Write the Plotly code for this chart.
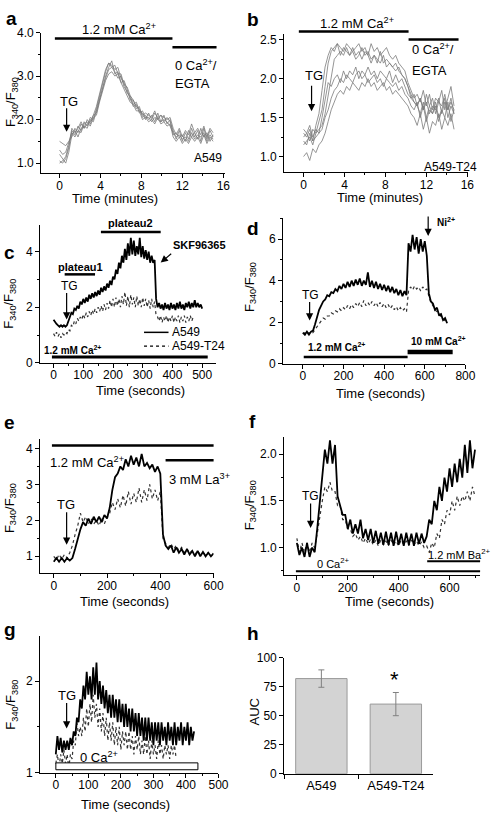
import plotly.graph_objects as go

W, H = 495, 820
FONT = "Liberation Sans, Arial, Helvetica, sans-serif"

# ------------------------------------------------------------------ data
# (a) A549 single-cell F340/F380 traces, sampled every 0.3 min
a_step_min = 0.3
a_cell1 = [1.05,1.0,1.1,1.35,1.75,1.65,1.85,1.75,1.95,1.85,2.05,2.0,2.25,2.55,2.85,3.1,3.3,3.25,3.15,3.2,
           2.95,2.85,2.6,2.55,2.35,2.4,2.2,2.15,2.0,2.15,2.0,2.15,2.05,2.1,1.95,2.05,1.95,1.75,1.55,1.75,
           1.5,1.7,1.55,1.8,1.6,1.75,1.5,1.8,1.55,1.75,1.6]
a_cell2 = [1.5,1.45,1.4,1.5,1.6,1.8,1.7,1.9,1.8,2.0,1.9,2.1,2.15,2.45,2.75,3.0,3.2,3.35,3.05,3.1,
           2.85,2.9,2.7,2.45,2.45,2.25,2.3,2.05,2.1,2.0,2.1,1.95,2.15,1.95,2.1,1.9,2.0,1.65,1.7,1.6,
           1.65,1.5,1.75,1.6,1.7,1.55,1.8,1.6,1.7,1.5,1.65]
a_cell3 = [1.2,1.1,1.0,1.25,1.65,1.75,1.6,1.8,1.85,1.8,2.0,1.95,2.2,2.5,2.7,2.95,3.15,3.2,3.1,2.95,
           3.0,2.75,2.65,2.5,2.3,2.35,2.15,2.2,2.05,2.05,1.95,2.05,2.0,1.95,2.0,1.95,1.85,1.7,1.6,1.65,
           1.55,1.6,1.5,1.7,1.55,1.65,1.6,1.7,1.5,1.65,1.55]
a_cell4 = [1.0,1.05,1.15,1.4,1.8,1.7,1.8,1.95,1.8,1.9,1.95,2.1,2.3,2.6,2.9,3.15,3.3,3.2,3.25,3.05,
           3.05,2.8,2.75,2.55,2.45,2.3,2.25,2.1,2.15,2.1,2.05,2.2,2.0,2.1,2.05,2.0,2.05,1.8,1.65,1.8,
           1.6,1.75,1.65,1.9,1.7,1.8,1.65,1.85,1.6,1.8,1.7]
a_cell5 = [1.3,1.2,1.25,1.45,1.7,1.6,1.75,1.7,1.9,1.95,1.85,2.05,2.1,2.4,2.65,2.9,3.05,3.1,3.0,3.05,
           2.85,2.7,2.55,2.4,2.35,2.2,2.2,2.0,2.05,1.95,2.0,1.9,2.05,1.9,1.95,1.85,1.9,1.6,1.5,1.6,
           1.45,1.55,1.45,1.6,1.5,1.6,1.45,1.65,1.45,1.6,1.5]

# (b) A549-T24 single-cell traces, sampled every 0.3 min
b_step_min = 0.3
b_cell1 = [1.25,1.3,1.2,1.35,1.3,1.45,1.6,1.9,2.2,2.35,2.4,2.45,2.4,2.35,2.45,2.4,2.35,2.4,2.45,2.35,
           2.4,2.3,2.45,2.35,2.4,2.3,2.35,2.4,2.3,2.25,2.3,2.2,2.15,2.1,1.95,1.85,1.75,1.8,1.7,1.85,
           1.65,1.8,1.6,1.75,1.7,1.85,1.6,1.75,1.9,1.65]
b_cell2 = [1.15,1.2,1.25,1.15,1.3,1.35,1.4,1.55,1.8,2.05,2.25,2.3,2.35,2.3,2.4,2.3,2.35,2.25,2.3,2.4,
           2.3,2.35,2.25,2.3,2.2,2.35,2.2,2.25,2.2,2.15,2.2,2.1,2.05,2.0,1.9,1.8,1.7,1.65,1.75,1.6,
           1.7,1.55,1.65,1.6,1.75,1.55,1.7,1.6,1.75,1.55]
b_cell3 = [1.35,1.3,1.4,1.25,1.35,1.3,1.5,1.75,1.95,1.9,2.0,2.05,1.95,2.1,2.0,2.1,2.05,2.15,2.0,2.1,
           2.05,2.15,2.05,2.1,2.0,2.1,2.05,2.0,2.1,1.95,2.05,1.95,2.0,1.9,1.8,1.75,1.7,1.65,1.55,1.7,
           1.5,1.65,1.55,1.7,1.5,1.6,1.75,1.5,1.65,1.55]
b_cell4 = [1.0,1.05,0.95,1.1,1.05,1.15,1.2,1.3,1.45,1.6,1.7,1.8,1.85,1.8,1.9,1.85,1.95,1.9,1.85,1.95,
           1.9,2.0,1.9,1.95,1.85,1.9,1.95,1.85,1.9,1.8,1.85,1.8,1.75,1.7,1.65,1.55,1.5,1.4,1.55,1.35,
           1.5,1.3,1.45,1.4,1.55,1.35,1.5,1.4,1.55,1.35]
b_cell5 = [1.2,1.15,1.3,1.2,1.25,1.3,1.35,1.5,1.6,1.75,1.85,1.9,2.0,1.95,2.05,2.0,1.95,2.05,2.1,2.0,
           2.05,1.95,2.0,2.05,1.95,2.0,1.9,2.0,1.95,1.9,1.95,1.85,1.9,1.8,1.75,1.65,1.6,1.7,1.5,1.65,
           1.45,1.6,1.55,1.65,1.45,1.6,1.5,1.7,1.45,1.6]
b_cell6 = [1.3,1.25,1.35,1.2,1.4,1.55,1.85,2.15,2.3,2.4,2.35,2.45,2.3,2.4,2.35,2.3,2.4,2.3,2.35,2.25,
           2.35,2.3,2.2,2.3,2.25,2.2,2.3,2.15,2.2,2.15,2.1,2.15,2.05,2.0,1.9,1.75,1.8,1.65,1.75,1.6,
           1.8,1.65,1.75,1.55,1.7,1.65,1.8,1.6,1.7,1.6]

# (c) 1.2 mM Ca2+, TG then SKF96365, sampled every 5 s
c_step_s = 5
c_a549 = [1.55,1.45,1.4,1.35,1.3,1.35,1.3,1.35,1.3,1.35,
          1.5,1.65,1.8,1.75,1.95,1.9,2.05,1.95,2.2,2.1,
          2.3,2.15,2.35,2.2,2.45,2.3,2.5,2.35,2.55,2.4,
          2.6,2.45,2.7,2.55,2.75,2.6,2.85,2.7,2.95,2.8,
          3.1,3.0,3.35,3.2,3.6,3.4,3.85,3.6,4.1,3.7,
          4.3,3.85,4.5,3.9,4.4,3.85,4.2,3.9,4.5,3.8,
          4.2,3.75,4.05,3.7,4.0,3.6,3.85,3.6,3.7,2.3,
          2.0,2.15,1.95,2.1,1.9,2.15,1.95,2.1,1.9,2.15,
          1.95,2.1,1.9,2.15,1.95,2.2,1.95,2.1,1.9,2.15,
          2.0,2.2,1.95,2.15,2.0,2.25,2.0,2.15,2.0,2.1,
          1.95]
c_t24 = [1.05,0.95,1.1,0.95,1.05,0.9,1.05,1.0,1.1,1.05,
         1.2,1.15,1.35,1.3,1.5,1.4,1.6,1.5,1.65,1.55,
         1.75,1.6,1.8,1.65,1.85,1.7,1.9,1.75,1.95,1.8,
         2.0,1.85,2.05,1.85,2.1,1.9,2.15,1.95,2.25,2.0,
         2.3,2.0,2.35,2.05,2.3,2.0,2.4,2.1,2.55,2.05,
         2.4,2.0,2.45,2.1,2.35,2.0,2.4,2.05,2.3,2.0,
         2.35,2.05,2.3,2.0,2.25,1.95,2.3,2.0,2.2,1.7,
         1.65,1.5,1.7,1.45,1.65,1.5,1.7,1.45,1.65,1.5,
         1.7,1.45,1.65,1.5,1.7,1.45,1.65,1.5,1.7,1.45,
         1.65,1.5,1.7,1.5,1.65]

# (d) 1.2 mM then 10 mM Ca2+, Ni2+, sampled every 10 s
d_step_s = 10
d_a549 = [1.5,1.4,1.55,1.4,1.55,1.6,
          1.9,2.3,2.6,2.8,3.0,3.1,3.3,3.25,3.45,3.4,
          3.6,3.5,3.75,3.6,3.85,3.65,3.95,3.7,4.0,3.75,
          4.05,3.8,4.1,3.75,4.0,3.8,4.4,3.7,4.0,3.65,
          3.95,3.6,3.85,3.55,3.8,3.5,3.75,3.45,3.7,3.4,
          3.6,3.3,3.55,3.25,3.5,3.3,
          5.8,5.4,6.2,5.5,6.1,5.3,6.0,5.4,5.9,5.2,
          3.4,3.0,2.9,2.6,2.7,2.35,2.4,2.1,2.2,1.95]
d_t24 = [1.45,1.5,1.4,1.5,1.45,1.5,
         1.65,1.8,1.95,2.05,2.2,2.15,2.3,2.3,2.45,2.4,
         2.55,2.5,2.65,2.55,2.7,2.6,2.8,2.65,2.85,2.7,
         2.9,2.75,2.95,2.75,3.05,2.8,2.95,2.8,3.0,2.8,
         2.95,2.75,2.95,2.75,2.9,2.7,2.85,2.65,2.8,2.6,
         2.75,2.55,2.7,2.55,2.65,2.5,
         3.5,3.7,3.55,3.75,3.6,3.7,3.5,3.7,3.55,3.6,
         3.2,2.95,2.8,2.6,2.5,2.35,2.25,2.15,2.05]

# (e) 1.2 mM Ca2+, TG, then 3 mM La3+, sampled every 10 s
e_step_s = 10
e_a549 = [0.85,0.95,0.85,0.95,0.85,0.95,0.88,0.95,1.2,1.5,
          1.75,1.95,1.85,2.05,1.9,2.1,1.95,2.1,1.95,2.15,
          2.05,2.35,2.85,3.2,3.3,3.5,3.4,3.7,3.5,3.8,
          3.55,3.75,3.5,3.85,3.5,3.6,3.45,3.55,3.35,3.5,
          3.3,1.6,1.3,1.2,1.3,1.1,1.25,1.1,1.2,1.05,
          1.2,1.05,1.15,1.0,1.15,1.0,1.12,1.0,1.1,1.0,
          1.08]
e_t24 = [1.0,0.9,1.05,0.92,1.05,0.95,1.1,1.3,1.6,1.85,
         2.2,1.95,2.1,1.9,2.05,1.9,2.0,1.85,2.05,1.9,
         2.1,2.2,2.5,2.3,2.6,2.35,2.7,2.4,2.8,2.45,
         2.75,2.5,2.9,2.5,2.85,2.55,3.0,2.6,2.85,2.55,
         2.8,1.5,1.35,1.25,1.35,1.2,1.3,1.15,1.25,1.1,
         1.2,1.1,1.15,1.05,1.15,1.05,1.1,1.05,1.1]

# (f) 0 Ca2+, TG, then 1.2 mM Ba2+, sampled every 10 s
f_step_s = 10
f_a549 = [1.05,0.92,1.0,0.9,1.05,0.9,1.0,0.95,1.2,1.5,
          1.8,2.05,1.9,2.15,1.9,2.1,1.55,1.45,1.35,1.35,
          1.2,1.3,1.15,1.25,1.15,1.3,1.1,1.2,1.08,1.2,
          1.05,1.18,1.04,1.16,1.03,1.17,1.03,1.16,1.02,1.17,
          1.03,1.15,1.02,1.16,1.03,1.15,1.02,1.16,1.04,1.15,
          1.05,1.12,1.3,1.25,1.5,1.4,1.65,1.5,1.75,1.6,
          1.85,1.65,1.9,1.7,1.95,1.75,2.1,1.8,2.15,1.85,
          2.05]
f_t24 = [1.1,0.95,1.05,0.95,1.05,0.95,1.05,1.0,1.15,1.35,
         1.5,1.65,1.6,1.7,1.6,1.6,1.45,1.45,1.3,1.3,
         1.2,1.2,1.12,1.15,1.08,1.12,1.05,1.1,1.04,1.09,
         1.03,1.08,1.02,1.08,1.03,1.07,1.02,1.08,1.03,1.07,
         1.02,1.08,1.03,1.07,1.02,1.08,1.03,1.07,1.02,1.06,
         1.0,1.02,0.95,1.05,1.0,1.15,1.1,1.3,1.25,1.4,
         1.35,1.5,1.4,1.55,1.45,1.55,1.5,1.6,1.5,1.65,
         1.55]

# (g) 0 Ca2+, TG, sampled every 5 s
g_step_s = 5
g_a549 = [1.2,1.4,1.25,1.38,1.22,1.35,1.25,1.35,1.25,1.38,
          1.3,1.45,1.4,1.6,1.55,1.8,1.7,1.95,1.8,2.1,
          1.85,2.05,1.8,2.15,1.85,2.2,1.8,2.0,1.75,1.95,
          1.7,1.9,1.65,1.85,1.6,1.85,1.6,1.8,1.55,1.8,
          1.55,1.75,1.5,1.75,1.5,1.7,1.45,1.7,1.45,1.65,
          1.4,1.65,1.4,1.6,1.35,1.6,1.35,1.6,1.35,1.55,
          1.3,1.55,1.35,1.55,1.3,1.55,1.35,1.5,1.3,1.55,
          1.35,1.5,1.3,1.55,1.3,1.5,1.35,1.55,1.3,1.5,
          1.35,1.55,1.3,1.5,1.35,1.45]
g_t24 = [1.1,1.2,1.05,1.2,1.1,1.25,1.1,1.2,1.05,1.2,
         1.15,1.35,1.3,1.55,1.4,1.5,1.4,1.6,1.45,1.7,
         1.5,1.75,1.55,1.85,1.6,1.75,1.5,1.7,1.45,1.65,
         1.4,1.6,1.35,1.55,1.35,1.55,1.3,1.5,1.3,1.5,
         1.25,1.45,1.3,1.45,1.25,1.45,1.25,1.4,1.2,1.4,
         1.25,1.4,1.2,1.35,1.2,1.4,1.2,1.35,1.15,1.35,
         1.2,1.3,1.15,1.35,1.2,1.3,1.15,1.3,1.2,1.3,
         1.15,1.3,1.2,1.3,1.15]

# (h) area under curve
h_groups = ["A549", "A549-T24"]
h_auc = [82, 60]
h_sem = [7.5, 10]


def times(step, values):
    return [round(i * step, 4) for i in range(len(values))]


# ------------------------------------------------------------------ layout helpers
def X(px):
    return px / W


def Y(py):
    return 1 - py / H


panels = [
    # idx, (left, right, top, bottom) px, xrange, yrange, xdtick, xminor, ydtick, yminor, yfmt
    (1, (42, 230, 26, 169), [-1.8, 16.2], [0.77, 4.0], 4, 2, 1, 0.5, ".1f"),
    (2, (290, 478, 27, 168), [-1.9, 16.1], [0.8, 2.58], 4, 2, 0.5, 0.25, ".1f"),
    (3, (41, 220, 222, 362), [-45, 545], [0, 4.95], 100, 50, 2, 1, None),
    (4, (289, 475, 215, 363), [-97, 800], [0, 7], 200, 100, 2, 1, None),
    (5, (41, 218, 440, 576), [-51, 600], [0.53, 4.25], 200, 100, 1, 0.5, None),
    (6, (290, 490, 437, 578), [-50, 720], [0.705, 2.19], 200, 100, 0.5, 0.25, ".1f"),
    (7, (41, 223, 640, 779), [-48, 500], [1, 2.49], 100, 50, 1, 0.5, None),
    (8, (290, 442, 662, 780), [-0.5, 1.5], [0, 100], None, None, 25, None, None),
]

layout = dict(
    width=W, height=H, autosize=False,
    margin=dict(l=0, r=0, t=0, b=0),
    paper_bgcolor="white", plot_bgcolor="white",
    showlegend=False,
    font=dict(family=FONT, color="black", size=12),
)

tickfont = dict(family=FONT, size=12, color="black")
for idx, (L, R, T, B), xr, yr, xd, xm, yd, ym, yfmt in panels:
    s = "" if idx == 1 else str(idx)
    xa = dict(domain=[X(L), X(R)], range=xr, anchor="y" + s,
              showline=True, linecolor="black", linewidth=1,
              ticks="outside", ticklen=4, tickwidth=1, tickcolor="black",
              showgrid=False, zeroline=False, tickfont=tickfont,
              ticklabelstandoff=-3)
    if xd is not None:
        xa.update(dtick=xd, tick0=0,
                  minor=dict(ticks="outside", ticklen=2, dtick=xm, tick0=0,
                             tickcolor="black", showgrid=False))
    else:
        xa.update(type="category", tickson="boundaries", ticklabelstandoff=0,
                  tickfont=dict(family=FONT, size=13, color="black"))
    ya = dict(domain=[Y(B), Y(T)], range=yr, anchor="x" + s,
              showline=True, linecolor="black", linewidth=1,
              ticks="outside", ticklen=4, tickwidth=1, tickcolor="black",
              showgrid=False, zeroline=False, tickfont=tickfont,
              dtick=yd, tick0=0)
    if ym is not None:
        ya["minor"] = dict(ticks="outside", ticklen=2, dtick=ym, tick0=0,
                           tickcolor="black", showgrid=False)
    if yfmt:
        ya["tickformat"] = yfmt
    layout["xaxis" + s] = xa
    layout["yaxis" + s] = ya

fig = go.Figure()


def add_line(idx, x, y, color="black", width=1.0, dash="solid"):
    s = "" if idx == 1 else str(idx)
    fig.add_trace(go.Scatter(x=x, y=y, mode="lines", xaxis="x" + s, yaxis="y" + s,
                             line=dict(color=color, width=width, dash=dash),
                             hoverinfo="skip"))


for cell in [a_cell1, a_cell2, a_cell3, a_cell4, a_cell5]:
    add_line(1, times(a_step_min, cell), cell, color="#7a7a7a", width=0.8)
for cell in [b_cell1, b_cell2, b_cell3, b_cell4, b_cell5, b_cell6]:
    add_line(2, times(b_step_min, cell), cell, color="#7a7a7a", width=0.8)

for idx, step, a549, t24 in [(3, c_step_s, c_a549, c_t24), (4, d_step_s, d_a549, d_t24),
                             (5, e_step_s, e_a549, e_t24), (6, f_step_s, f_a549, f_t24),
                             (7, g_step_s, g_a549, g_t24)]:
    add_line(idx, times(step, t24), t24, color="#333333", width=1.2, dash="dot")
    add_line(idx, times(step, a549), a549, color="black", width=1.8)

fig.add_trace(go.Bar(x=h_groups, y=h_auc, xaxis="x8", yaxis="y8", width=0.69,
                     marker=dict(color="#d3d3d3", line=dict(color="#9a9a9a", width=1)),
                     error_y=dict(type="data", array=h_sem, color="#808080", thickness=1, width=3),
                     hoverinfo="skip"))

# ------------------------------------------------------------------ annotations
ann = []
shapes = []


def txt(x, y, s, size=13, bold=False, xanchor="center", angle=0):
    ann.append(dict(x=X(x), y=Y(y), xref="paper", yref="paper",
                    text=("<b>%s</b>" % s) if bold else s, showarrow=False,
                    font=dict(family=FONT, size=size, color="black"),
                    xanchor=xanchor, yanchor="middle", textangle=angle))


def arrow(x, y_tail, y_tip, x_tail=None):
    xt = x if x_tail is None else x_tail
    ann.append(dict(x=X(x), y=Y(y_tip), xref="paper", yref="paper",
                    ax=xt - x, ay=y_tail - y_tip, axref="pixel", ayref="pixel",
                    text="", showarrow=True, arrowhead=2, arrowsize=1.2,
                    arrowwidth=1.2, arrowcolor="black", standoff=0, startstandoff=0))


def hbar(x0, x1, y, w=2.5, dash="solid"):
    shapes.append(dict(type="line", xref="paper", yref="paper",
                       x0=X(x0), x1=X(x1), y0=Y(y), y1=Y(y),
                       line=dict(color="black", width=w, dash=dash)))


CA = "Ca<sup>2+</sup>"
FR = "F<sub>340</sub>/F<sub>380</sub>"

# panel letters
for letter, x, y in [("a", 12, 12), ("b", 258, 13), ("c", 10, 250), ("d", 258, 225),
                     ("e", 10, 423), ("f", 258, 422), ("g", 10, 633), ("h", 258, 637)]:
    txt(x, y, letter, size=19, bold=True)

# axis titles
for x, y in [(117, 195), (388, 194)]:
    txt(x, y, "Time (minutes)", size=13)
for x, y in [(143, 390), (388, 393), (127, 605), (398, 605), (128, 811)]:
    txt(x, y, "Time (seconds)", size=13)
for x, y in [(12, 97), (10, 302), (255, 285), (10, 510), (255, 507), (12, 710)]:
    txt(x, y, FR, size=13, angle=-90)
txt(260, 717, "AUC", size=13, angle=-90)

# (a)
txt(121, 22, "1.2 mM " + CA, size=13)
hbar(56, 176, 32)
hbar(176, 221, 41)
txt(177, 59, "0 " + CA + "/", size=13, xanchor="left")
txt(177, 78, "EGTA", size=13, xanchor="left")
txt(70, 96, "TG", size=13)
arrow(68, 102, 127)
txt(212, 154, "A549", size=12)

# (b)
txt(364, 16, "1.2 mM " + CA, size=13)
hbar(305, 417, 25)
hbar(417, 468, 33)
txt(418, 43, "0 " + CA + "/", size=13, xanchor="left")
txt(418, 65, "EGTA", size=13, xanchor="left")
txt(320, 70, "TG", size=13)
arrow(318, 79, 106)
txt(460, 163, "A549-T24", size=12)

# (c)
txt(133, 220, "plateau2", size=11, bold=True)
hbar(103, 164, 229, w=2.5)
txt(82, 265, "plateau1", size=11, bold=True)
hbar(66, 97, 272, w=2.5)
txt(204, 242, "SKF96365", size=11, bold=True)
arrow(164, 250, 260, x_tail=176)
txt(71, 284, "TG", size=12)
arrow(68, 290, 318)
hbar(147, 172, 331, w=1.5)
txt(173, 331, "A549", size=12, xanchor="left")
hbar(147, 172, 345, w=1.2, dash="dot")
txt(173, 345, "A549-T24", size=12, xanchor="left")
txt(74, 349, "1.2 mM " + CA, size=10, bold=True)
hbar(53, 212, 356, w=3)

# (d)
txt(317, 293, "TG", size=12)
arrow(316, 299, 319)
txt(444, 219, "Ni<sup>2+</sup>", size=10, bold=True, xanchor="left")
arrow(437, 212, 233)
txt(312, 346, "1.2 mM " + CA, size=10, bold=True, xanchor="left")
hbar(310, 416, 356, w=2.5)
txt(417, 340, "10 mM " + CA, size=10, bold=True, xanchor="left")
hbar(416, 462, 351, w=4.5)

# (e)
hbar(53, 218, 446)
txt(49, 463, "1.2 mM " + CA, size=13, xanchor="left")
hbar(169, 218, 461)
txt(170, 480, "3 mM La<sup>3+</sup>", size=13, xanchor="left")
txt(67, 506, "TG", size=13)
arrow(68, 513, 547)

# (f)
txt(317, 497, "TG", size=12)
arrow(317, 504, 530)
txt(321, 566, "0 " + CA, size=11, xanchor="left")
hbar(302, 490, 574, w=2)
txt(435, 556, "1.2 mM Ba<sup>2+</sup>", size=11, xanchor="left")
hbar(436, 490, 564, w=2)

# (g)
txt(68, 700, "TG", size=13)
arrow(68, 707, 734)
shapes.append(dict(type="rect", xref="paper", yref="paper",
                   x0=X(57), x1=X(202), y0=Y(776), y1=Y(769),
                   fillcolor="white", line=dict(color="black", width=1)))
txt(80, 763, "0 " + CA, size=13, xanchor="left")

# (h)
txt(403, 684, "*", size=22)

layout["annotations"] = ann
layout["shapes"] = shapes
fig.update_layout(**layout)

# the figure is laid out for the full 495x820 window: drop the page's default body margin
fig.write_html("out.html",
               config={"displayModeBar": False, "staticPlot": True},
               post_script="document.body.style.margin='0';document.documentElement.style.margin='0';")
